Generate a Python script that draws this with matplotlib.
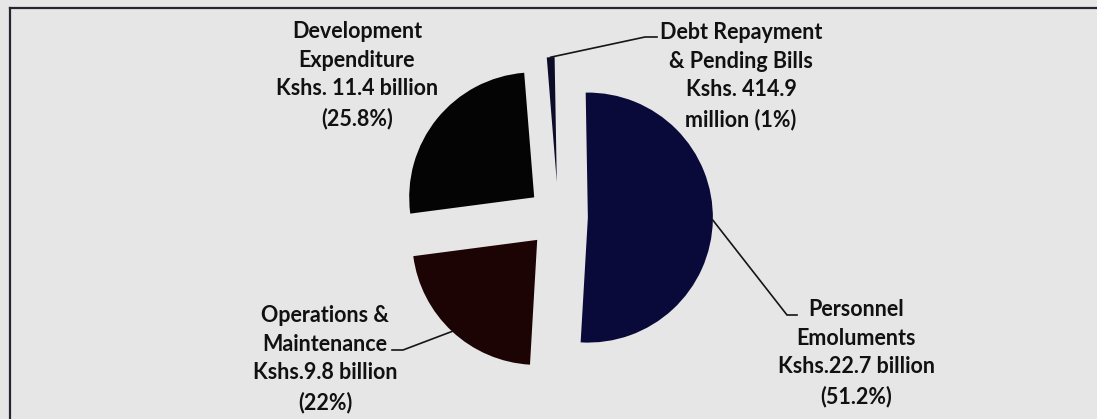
import matplotlib.pyplot as plt
import numpy as np

# budget split (percent of total)
categories = ['Personnel\nEmoluments', 'Operations &\nMaintenance',
              'Development\nExpenditure', 'Debt Repayment\n& Pending Bills']
shares = [51.2, 22, 25.8, 1]
amounts = ['Kshs.22.7 billion', 'Kshs.9.8 billion', 'Kshs. 11.4 billion',
           'Kshs. 414.9\nmillion']

colors = ['#0a0a3a', '#1c0405', '#040404', '#0c0c28']
explode = [0.235, 0.25, 0.25, 0.28]   # fraction of radius

W, H = 1097, 419
bg = '#e6e6e6'

fig = plt.figure(figsize=(W / 100, H / 100), dpi=100, facecolor=bg)
ax = fig.add_axes([0, 0, 1, 1])
ax.set_facecolor(bg)

R = 125
cx, cy = 558.5, 202
# pie explode works in data units, so scale by radius
wedges, _ = ax.pie(shares, explode=[e * R for e in explode], colors=colors,
                   startangle=91, counterclock=False, radius=R,
                   center=(cx, cy), wedgeprops=dict(linewidth=0))
ax.set_xlim(0, W)
ax.set_ylim(0, H)
ax.set_aspect('auto')
ax.axis('off')

# label text centres and leader elbows (pixel units)
label_pos = [(856, 66), (325, 60), (357, 344), (741, 343)]
elbows = [(787, 104, 797), (403, 69, 392), None, (645, 382, 657)]

font = dict(family=['Lato', 'DejaVu Sans'], fontsize=15.5, fontweight='bold',
            color='#111111')

for i, w in enumerate(wedges):
    if categories[i].startswith('Debt'):
        txt = f'{categories[i]}\n{amounts[i]} ({shares[i]:g}%)'
    else:
        txt = f'{categories[i]}\n{amounts[i]}\n({shares[i]:g}%)'
    lx, ly = label_pos[i]
    ax.text(lx, ly, txt, ha='center', va='center', linespacing=1.45, **font)

    el = elbows[i]
    if el is None:
        continue
    ang = np.deg2rad((w.theta1 + w.theta2) / 2)
    x0 = w.center[0] + w.r * np.cos(ang)
    y0 = w.center[1] + w.r * np.sin(ang)
    ax.plot([x0, el[0], el[2]], [y0, el[1], el[1]], color='#151515', lw=1.2,
            solid_joinstyle='miter')

# frame lines along the top and left
ax.plot([9.5, W], [H - 8.5, H - 8.5], color='#2a2430', lw=1.6)
ax.plot([9.5, 9.5], [0, H - 8.5], color='#2a2430', lw=1.6)

fig.savefig('out.png', dpi=100, facecolor=bg)
